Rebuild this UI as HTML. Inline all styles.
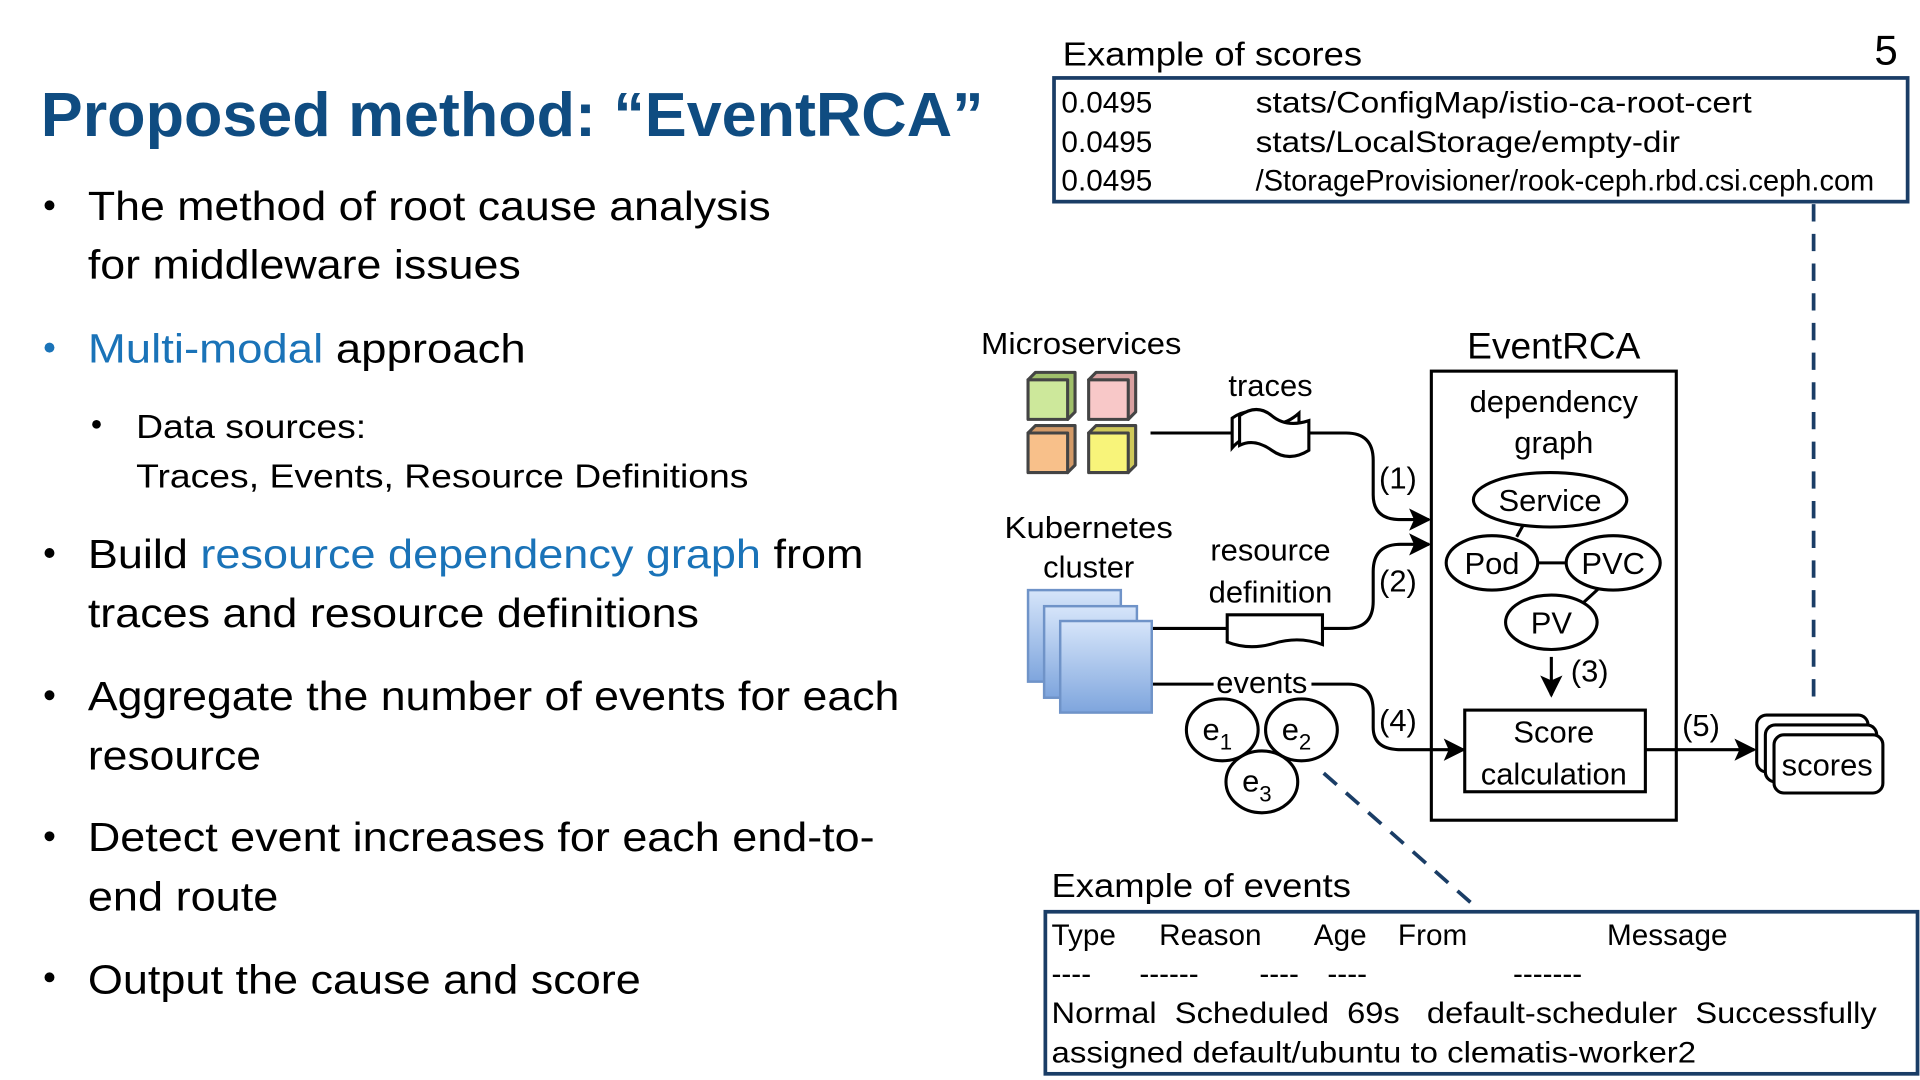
<!DOCTYPE html>
<html><head><meta charset="utf-8"><style>
html,body{margin:0;padding:0;background:#fff;}
svg{display:block;}
text{font-family:"Liberation Sans",sans-serif;}
</style></head><body>
<svg width="1920" height="1080" viewBox="0 0 1552 873" preserveAspectRatio="none" xmlns="http://www.w3.org/2000/svg">
<defs>
<linearGradient id="kg" x1="0" y1="0" x2="0" y2="1"><stop offset="0" stop-color="#d6e5fa"/><stop offset="1" stop-color="#7ea5dd"/></linearGradient>
<marker id="ar2" markerWidth="18" markerHeight="18" refX="16" refY="9" orient="auto" markerUnits="userSpaceOnUse"><path d="M0,0 L18,9 L0,18 L4,9 z" fill="#000"/></marker>
</defs>
<text x="33" y="110" font-size="50" font-weight="bold" fill="#0f4c81" textLength="762" lengthAdjust="spacingAndGlyphs">Proposed method: “EventRCA”</text>
<text x="1534" y="52" font-size="34" text-anchor="end">5</text>
<g font-size="33" fill="#000">
<circle cx="40" cy="166" r="4"/>
<text x="71" y="178" textLength="552" lengthAdjust="spacingAndGlyphs">The method of root cause analysis</text>
<text x="71" y="225" textLength="350" lengthAdjust="spacingAndGlyphs">for middleware issues</text>
<circle cx="40" cy="281" r="4" fill="#1a73b8"/>
<text x="71" y="293" textLength="354" lengthAdjust="spacingAndGlyphs"><tspan fill="#1a73b8">Multi-modal</tspan> approach</text>
<circle cx="78" cy="343" r="3.5"/>
<text x="110" y="354" font-size="27" textLength="186" lengthAdjust="spacingAndGlyphs">Data sources:</text>
<text x="110" y="394" font-size="27" textLength="495" lengthAdjust="spacingAndGlyphs">Traces, Events, Resource Definitions</text>
<circle cx="40" cy="447" r="4"/>
<text x="71" y="459" textLength="627" lengthAdjust="spacingAndGlyphs">Build <tspan fill="#1a73b8">resource dependency graph</tspan> from</text>
<text x="71" y="507" textLength="494" lengthAdjust="spacingAndGlyphs">traces and resource definitions</text>
<circle cx="40" cy="562" r="4"/>
<text x="71" y="574" textLength="656" lengthAdjust="spacingAndGlyphs">Aggregate the number of events for each</text>
<text x="71" y="622" textLength="140" lengthAdjust="spacingAndGlyphs">resource</text>
<circle cx="40" cy="676" r="4"/>
<text x="71" y="688" textLength="636" lengthAdjust="spacingAndGlyphs">Detect event increases for each end-to-</text>
<text x="71" y="736" textLength="154" lengthAdjust="spacingAndGlyphs">end route</text>
<circle cx="40" cy="790" r="4"/>
<text x="71" y="803" textLength="447" lengthAdjust="spacingAndGlyphs">Output the cause and score</text>
</g>
<text x="859" y="53" font-size="27" textLength="242" lengthAdjust="spacingAndGlyphs">Example of scores</text>
<rect x="852" y="63" width="690" height="100" fill="none" stroke="#1a3d66" stroke-width="3"/>
<g font-size="24">
<text x="858" y="91">0.0495</text><text x="1015" y="91" textLength="401" lengthAdjust="spacingAndGlyphs">stats/ConfigMap/istio-ca-root-cert</text>
<text x="858" y="123">0.0495</text><text x="1015" y="123" textLength="343" lengthAdjust="spacingAndGlyphs">stats/LocalStorage/empty-dir</text>
<text x="858" y="154">0.0495</text><text x="1015" y="154" textLength="500" lengthAdjust="spacingAndGlyphs">/StorageProvisioner/rook-ceph.rbd.csi.ceph.com</text>
</g>
<line x1="1466" y1="165" x2="1466" y2="572" stroke="#1a3d66" stroke-width="3" stroke-dasharray="14,10"/>
<line x1="1070" y1="625" x2="1195" y2="735" stroke="#1a3d66" stroke-width="3" stroke-dasharray="14,10"/>
<text x="793" y="286" font-size="25" textLength="162" lengthAdjust="spacingAndGlyphs">Microservices</text>
<g stroke="#444" stroke-width="2.5" stroke-linejoin="round">
<g><path d="M831,307 l6,-6 h32 v32 l-6,6 z" fill="#9fbf6a"/><rect x="831" y="307" width="32" height="32" fill="#cde89b"/></g>
<g><path d="M880,307 l6,-6 h32 v32 l-6,6 z" fill="#d8a0a0"/><rect x="880" y="307" width="32" height="32" fill="#f8c8c8"/></g>
<g><path d="M831,350 l6,-6 h32 v32 l-6,6 z" fill="#d39a68"/><rect x="831" y="350" width="32" height="32" fill="#f8c08a"/></g>
<g><path d="M880,350 l6,-6 h32 v32 l-6,6 z" fill="#cfc95a"/><rect x="880" y="350" width="32" height="32" fill="#f8f47a"/></g>
</g>
<g fill="none" stroke="#000" stroke-width="2.5">
<path d="M930,350 H996"/>
<path d="M1058,350 H1088 Q1110,350 1110,372 V400 Q1110,420 1132,420 H1155" marker-end="url(#ar2)"/>
<path d="M996,338 Q1010,328 1022,338 T1050,334 V358 Q1036,368 1022,358 T996,362 Z" fill="#fff"/>
<path d="M1002,336 Q1016,326 1028,336 T1058,340 V364 Q1042,374 1028,364 T1002,360 Z" fill="#fff"/>
<path d="M931,508 H992"/>
<path d="M1069,508 H1088 Q1110,508 1110,486 V462 Q1110,440 1132,440 H1155" marker-end="url(#ar2)"/>
<path d="M992,497 H1069 V521 Q1050,514 1030,520 T992,519 Z" fill="#fff"/>
<path d="M931,553 H981"/>
<path d="M1060,553 H1090 Q1110,553 1110,575 V588 Q1110,606 1132,606 H1183" marker-end="url(#ar2)"/>
<ellipse cx="988" cy="590" rx="29" ry="25"/>
<ellipse cx="1052" cy="590" rx="29" ry="25"/>
<ellipse cx="1020" cy="632" rx="29" ry="25"/>
<rect x="1157" y="300" width="198" height="363"/>
<ellipse cx="1253" cy="404" rx="62" ry="22"/>
<ellipse cx="1206" cy="455" rx="37" ry="22"/>
<ellipse cx="1304" cy="455" rx="38" ry="22"/>
<ellipse cx="1254" cy="503" rx="37" ry="22"/>
<path d="M1231,425 L1226,434 M1243,455 H1266 M1292,476 L1280,487"/>
<path d="M1254,531 V562" marker-end="url(#ar2)"/>
<rect x="1184" y="574" width="146" height="66"/>
<path d="M1330,606 H1418" marker-end="url(#ar2)"/>
<rect x="1420" y="578" width="90" height="46" rx="8" fill="#fff"/>
<rect x="1427" y="586" width="90" height="46" rx="8" fill="#fff"/>
<rect x="1434" y="594" width="88" height="47" rx="8" fill="#fff"/>
</g>
<text x="880" y="435" font-size="25" text-anchor="middle" textLength="136" lengthAdjust="spacingAndGlyphs">Kubernetes</text>
<text x="880" y="467" font-size="25" text-anchor="middle">cluster</text>
<g stroke="#6f93c8" stroke-width="2" fill="url(#kg)">
<rect x="831" y="477" width="75" height="74"/>
<rect x="844" y="490" width="75" height="74"/>
<rect x="857" y="502" width="74" height="74"/>
</g>
<g font-size="25" text-anchor="middle">
<text x="1027" y="320">traces</text>
<text x="1027" y="453">resource</text>
<text x="1027" y="487">definition</text>
<rect x="982" y="540" width="78" height="20" fill="#fff"/>
<text x="1020" y="560">events</text>
<text x="1130" y="395">(1)</text>
<text x="1130" y="478">(2)</text>
<text x="1130" y="591">(4)</text>
<text x="1285" y="551">(3)</text>
<text x="1375" y="595">(5)</text>
<text x="1256" y="290" font-size="30">EventRCA</text>
<text x="1256" y="333">dependency</text>
<text x="1256" y="366">graph</text>
<text x="1253" y="413">Service</text>
<text x="1206" y="464">Pod</text>
<text x="1304" y="464">PVC</text>
<text x="1254" y="512">PV</text>
<text x="1256" y="600">Score</text>
<text x="1256" y="634">calculation</text>
<text x="1477" y="627">scores</text>
<text x="984" y="598">e<tspan font-size="18" dy="8">1</tspan></text>
<text x="1048" y="598">e<tspan font-size="18" dy="8">2</tspan></text>
<text x="1016" y="640">e<tspan font-size="18" dy="8">3</tspan></text>
</g>
<text x="850" y="725" font-size="27" textLength="242" lengthAdjust="spacingAndGlyphs">Example of events</text>
<rect x="845" y="737" width="705" height="131" fill="none" stroke="#1a3d66" stroke-width="3"/>
<g font-size="24">
<text x="850" y="764">Type</text><text x="937" y="764">Reason</text><text x="1062" y="764">Age</text><text x="1130" y="764">From</text><text x="1299" y="764">Message</text>
<text x="850" y="795">----</text><text x="921" y="795">------</text><text x="1018" y="795">----</text><text x="1073" y="795">----</text><text x="1223" y="795">-------</text>
<text x="850" y="827" xml:space="preserve" textLength="667" lengthAdjust="spacingAndGlyphs">Normal  Scheduled  69s   default-scheduler  Successfully</text>
<text x="850" y="859" textLength="521" lengthAdjust="spacingAndGlyphs">assigned default/ubuntu to clematis-worker2</text>
</g>
</svg>
</body></html>
